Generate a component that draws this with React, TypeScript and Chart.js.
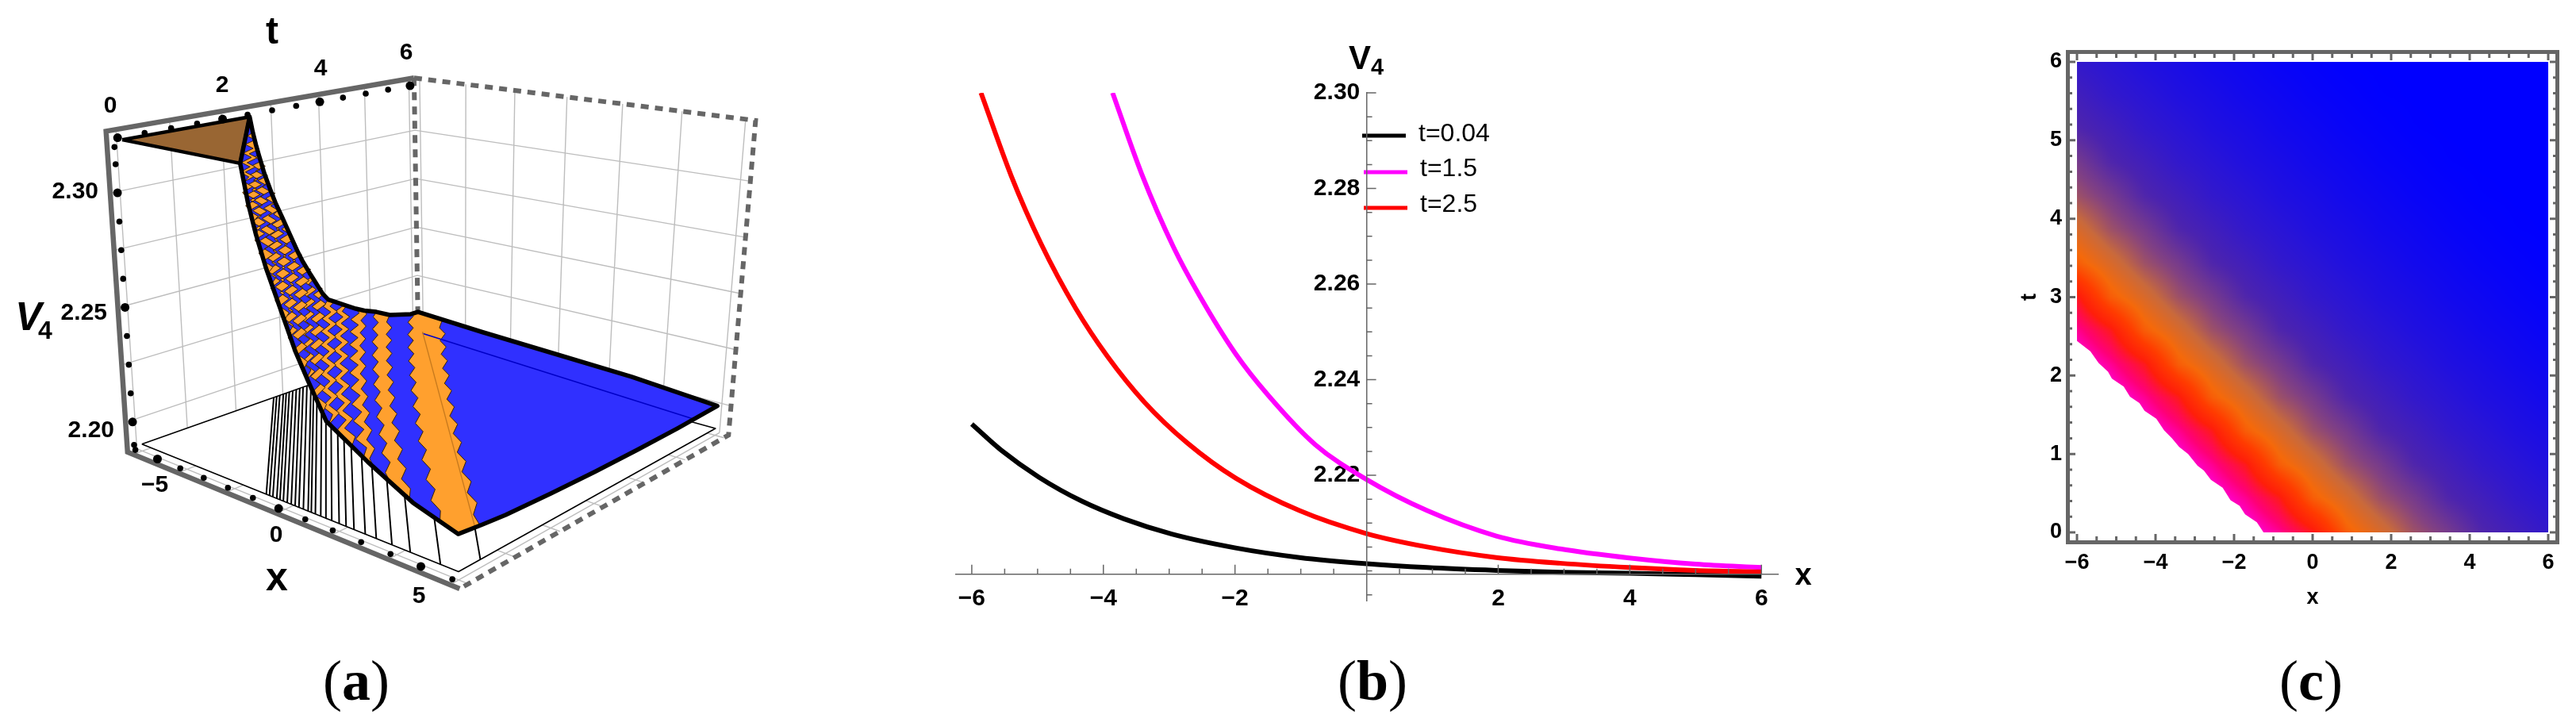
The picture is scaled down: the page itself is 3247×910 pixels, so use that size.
import { useEffect, useRef } from 'react';
import { Chart, registerables } from 'chart.js';

Chart.register(...registerables);
Chart.defaults.font.family = '"Liberation Sans", Arial, sans-serif';
Chart.defaults.color = '#000';

// ---------- panel (a): surface ----------
const WAVE_SPEED = 1.96; // x + c*t is constant along a stripe
const V_FLOOR = 2.19;
const V_CLIP = 2.323;
const BROWN = '#996633';
const BLUE = '#3030ff';
const ORANGE = '#ffa02e';

// stripes: where each one meets t=0, and its height at both ends
const bandXi = [-1.1, -1.0, -0.9, -0.81, -0.724, -0.6, -0.469, -0.317, -0.195, -0.065, 0.084, 0.235, 0.384, 0.528, 0.694, 0.871, 0.989, 1.14, 1.338, 1.524, 1.738, 2.004, 2.252, 2.532, 2.926, 3.306, 3.84, 4.45, 5.43, 6.9];
const bandV = [2.3155, 2.3095, 2.3043, 2.3, 2.2957, 2.2909, 2.2859, 2.2805, 2.2768, 2.2728, 2.2682, 2.2635, 2.2589, 2.2545, 2.25, 2.2458, 2.243, 2.2396, 2.2352, 2.2311, 2.2278, 2.2259, 2.2241, 2.2221, 2.2193, 2.2168, 2.2135, 2.2097, 2.2055, 2.2025];
const bandVFar = [2.3155, 2.3095, 2.3043, 2.3, 2.2957, 2.2909, 2.2859, 2.2805, 2.2768, 2.2728, 2.2682, 2.2635, 2.2589, 2.2545, 2.25, 2.2458, 2.243, 2.2396, 2.2352, 2.2311, 2.2278, 2.2259, 2.2241, 2.2221, 2.2193, 2.217, 2.2145, 2.2108, 2.2077, 2.2062];
const toothT = [0.23, 0.46, 0.69, 0.92, 1.15, 1.38, 1.61, 1.84, 2.07, 2.3, 2.53, 2.76, 2.99, 3.22, 3.45, 3.68, 3.91, 4.14, 4.37, 4.6, 4.83, 5.06, 5.29, 5.52, 5.75];
const toothOffset = [0.13, -0.13, 0.13, -0.13, 0.13, -0.13, 0.13, -0.13, 0.13, -0.13, 0.13, -0.13, 0.13, -0.13, 0.13, -0.13, 0.13, -0.13, 0.13, -0.13, 0.13, -0.13, 0.13, -0.13, 0.13];
const frontEdgeX = [-0.97, -0.72, -0.384, 0.595, 1.04, 1.65, 3.08, 4.57, 6];
const frontEdgeV = [2.3076, 2.2955, 2.2826, 2.2524, 2.2418, 2.2284, 2.2182, 2.209, 2.2037];
const rightEdgeT = [0.5, 1, 2, 3, 4, 5, 6];
const rightEdgeV = [2.2025, 2.2015, 2.2005, 2.1998, 2.1995, 2.1995, 2.2];
const backEdgeX = [3, 0, -3, -6];
const backEdgeV = [2.203, 2.2044, 2.2058, 2.2077];
const wallT = [0, 1, 2, 3, 4, 5, 6];
const wallX = [-6, -4, -2, 0, 2, 4, 6];
const wallV = [2.2, 2.225, 2.25, 2.275, 2.3];
const tTicksA = [0, 0.5, 1, 1.5, 2, 2.5, 3, 3.5, 4, 4.5, 5, 5.5, 6];
const xTicksA = [-6, -5, -4, -3, -2, -1, 0, 1, 2, 3, 4, 5, 6];
const vTicksA = [2.19, 2.2, 2.2125, 2.225, 2.2375, 2.25, 2.2625, 2.275, 2.2875, 2.3, 2.3125, 2.32];

// ---------- panel (b) ----------
const seriesNames = ['t=0.04', 't=1.5', 't=2.5'];
const seriesColors = ['#000000', '#ff00ff', '#ff0000'];
const blackX = [-6, -5.55, -4.98, -4.33, -3.69, -2.96, -1.99, -1.02, 0, 0.92, 1.97, 2.94, 3.99, 5, 6];
const blackV = [2.2307, 2.2252, 2.2196, 2.2146, 2.2109, 2.2077, 2.2048, 2.2028, 2.2015, 2.2007, 2.2001, 2.1997, 2.1995, 2.1992, 2.1989];
const magentaX = [-3.86, -3.42, -2.93, -2.54, -1.99, -1.5, -0.78, 0, 0.92, 1.97, 2.94, 3.99, 5, 6];
const magentaV = [2.3, 2.2831, 2.2676, 2.2576, 2.2454, 2.2368, 2.2264, 2.2191, 2.2126, 2.2073, 2.2046, 2.2027, 2.2014, 2.2007];
const redX = [-5.86, -5.4, -4.95, -4.42, -3.94, -3.37, -2.72, -1.99, -1.02, 0, 0.92, 1.97, 2.94, 3.99, 5, 6];
const redV = [2.3, 2.2826, 2.2685, 2.2549, 2.2449, 2.2352, 2.2267, 2.2194, 2.2126, 2.2078, 2.205, 2.2028, 2.2016, 2.2007, 2.2001, 2.1998];
const xLabelsB = [-6, -4, -2, 2, 4, 6];
const vLabelsB = [2.22, 2.24, 2.26, 2.28, 2.3];
const xMinorB = [-6, -5.5, -5, -4.5, -4, -3.5, -3, -2.5, -2, -1.5, -1, -0.5, 0.5, 1, 1.5, 2, 2.5, 3, 3.5, 4, 4.5, 5, 5.5, 6];
const vMinorB = [2.195, 2.2, 2.205, 2.21, 2.215, 2.22, 2.225, 2.23, 2.235, 2.24, 2.245, 2.25, 2.255, 2.26, 2.265, 2.27, 2.275, 2.28, 2.285, 2.29, 2.295, 2.3];

// ---------- panel (c) ----------
// level along each grid diagonal, 0 = blue ... 9 = magenta
const heatLevels = [9, 9, 9, 9, 9, 9, 9, 9, 9, 9, 9, 9, 8.2, 7.5, 7, 6.2, 5.3, 4.8, 4.2, 3.8, 3.4, 3, 2.7, 2.4, 2.1, 1.85, 1.65, 1.5, 1.3, 1.15, 1, 0.9, 0.8, 0.7, 0.62, 0.54, 0.46, 0.38, 0.32, 0.26, 0.2, 0.15, 0.1, 0.06, 0.03, 0, 0, 0, 0, 0, 0, 0, 0, 0, 0, 0, 0];
const heatStops = [[0, 0, 255], [40, 20, 215], [75, 35, 175], [130, 65, 130], [200, 105, 60], [245, 105, 10], [255, 60, 0], [255, 30, 10], [255, 0, 120], [255, 0, 255]];
const cutX = [-6, -5.66, -5.45, -5.21, -5.11, -4.81, -4.65, -4.41, -4.28, -3.98, -3.78, -3.58, -3.4, -3.17, -2.93, -2.77, -2.59, -2.29, -2.09, -1.86, -1.72, -1.42, -1.25];
const cutT = [2.44, 2.31, 2.16, 2.05, 1.96, 1.86, 1.73, 1.65, 1.55, 1.45, 1.3, 1.2, 1.09, 1, 0.85, 0.79, 0.67, 0.57, 0.41, 0.34, 0.23, 0.13, 0];
const xLabelsC = [-6, -4, -2, 0, 2, 4, 6];
const tLabelsC = [0, 1, 2, 3, 4, 5, 6];
const xMinorC = [-6, -5.5, -5, -4.5, -4, -3.5, -3, -2.5, -2, -1.5, -1, -0.5, 0, 0.5, 1, 1.5, 2, 2.5, 3, 3.5, 4, 4.5, 5, 5.5, 6];
const tMinorC = [0, 0.2, 0.4, 0.6, 0.8, 1, 1.2, 1.4, 1.6, 1.8, 2, 2.2, 2.4, 2.6, 2.8, 3, 3.2, 3.4, 3.6, 3.8, 4, 4.2, 4.4, 4.6, 4.8, 5, 5.2, 5.4, 5.6, 5.8, 6];

// ---------- camera for panel (a): screen position of the plot box corners ----------
const BOX = {
  fl: [[175, 562], [150, 173]],
  fr: [[578, 725], [573, 258]],
  bl: [[527, 437], [522, 106]],
  br: [[905, 542], [936, 160]],
};
const warp = (f: number, a: number) => (a * f) / (1 + (a - 1) * f);
const mix = (a: number, b: number, f: number) => a + (b - a) * f;

function project(x: number, t: number, v: number) {
  const u = warp((x + 6) / 12, 0.825);
  const w = warp(t / 6, 1.12);
  const h = (v - V_FLOOR) / (V_CLIP - V_FLOOR);
  const at = (i: number) => {
    const low = mix(mix(BOX.fl[0][i], BOX.fr[0][i], u), mix(BOX.bl[0][i], BOX.br[0][i], u), w);
    const high = mix(mix(BOX.fl[1][i], BOX.fr[1][i], u), mix(BOX.bl[1][i], BOX.br[1][i], u), w);
    return mix(low, high, h);
  };
  return { x: at(0), y: at(1) };
}

type P3 = [number, number, number];
const GAP = { x: NaN, y: NaN };

function stripeEdge(k: number): P3[] {
  const xi = bandXi[k];
  const tNear = Math.max(0, (xi - 6) / WAVE_SPEED);
  const tFar = Math.min(6, (xi + 6) / WAVE_SPEED);
  // each orange stripe bulges on alternate rows, its neighbour on the others;
  // teeth get shallower on the wide stripes
  const pair = k >> 1;
  const sign = (k % 2 === 0 ? 1 : -1) * (pair % 2 === 0 ? 1 : -1) * (k >= 25 ? 0.7 : 1);
  const vAt = (t: number) => mix(bandV[k], bandVFar[k], (t - tNear) / (tFar - tNear));
  const pts: P3[] = [[xi - WAVE_SPEED * tNear, tNear, bandV[k]]];
  toothT.forEach((t, j) => {
    if (t < tNear + 0.05 || t > tFar - 0.05) return;
    // teeth point sideways on the screen: a bit of x and a bit of t
    const x = xi - WAVE_SPEED * t + sign * toothOffset[j] * 0.6;
    const tt = t + sign * toothOffset[j] * 0.4;
    pts.push([Math.max(-6, Math.min(6, x)), tt, vAt(t)]);
  });
  pts.push([xi - WAVE_SPEED * tFar, tFar, bandVFar[k]]);
  return pts;
}

function line3(points: { x: number; y: number }[], color: string, width: number, extra: object = {}) {
  return { data: points, showLine: true, pointRadius: 0, borderColor: color, borderWidth: width, fill: false, tension: 0, ...extra };
}
function shape3(pts: P3[], color: string, outline = 'transparent', width = 0) {
  return line3(pts.map((p) => project(...p)), outline, width, { fill: 'shape', backgroundColor: color, borderJoinStyle: 'round' });
}
function surfaceOutline(): P3[] {
  const last = bandXi.length - 1;
  const front: P3[] = [[-1.2, 0, V_CLIP], ...frontEdgeX.map((x, i) => [x, 0, frontEdgeV[i]] as P3)];
  const right = rightEdgeT.map((t, i) => [6, t, rightEdgeV[i]] as P3);
  const back = backEdgeX.map((x, i) => [x, 6, backEdgeV[i]] as P3);
  const ridge: P3[] = [];
  for (let k = last - 1; k >= 0; k--) ridge.push([-6, (bandXi[k] + 6) / WAVE_SPEED, bandVFar[k]]);
  ridge.push([-6, 2.45, V_CLIP]);
  return [...front, ...right, ...back, ...ridge];
}

function datasetsA() {
  const sets: any[] = [];
  // walls
  const grid: { x: number; y: number }[] = [];
  const BX = -6.25;
  const BT = 6.12;
  const VB = 2.187;
  const VT = 2.327;
  wallT.forEach((t) => grid.push(project(BX, t, VB), project(BX, t, VT), GAP));
  wallV.forEach((v) => grid.push(project(BX, -0.15, v), project(BX, BT, v), GAP));
  wallX.forEach((x) => grid.push(project(x, BT, VB), project(x, BT, VT), GAP));
  wallV.forEach((v) => grid.push(project(BX, BT, v), project(6.3, BT, v), GAP));
  wallX.forEach((x) => grid.push(project(x, -0.18, VB), project(x, BT, VB), GAP));
  wallT.forEach((t) => grid.push(project(BX, t, VB), project(6.3, t, VB), GAP));
  sets.push(line3(grid, '#bdbdbd', 1.4));
  // dashed far side of the frame
  sets.push(line3([project(BX, BT, VT), project(6.3, BT, VT), project(6.3, BT, VB), project(6.3, -0.18, VB)], '#666666', 6, { borderDash: [10, 8] }));
  sets.push(line3([project(BX, BT, VT), project(BX, BT, VB)], '#666666', 6, { borderDash: [10, 8] }));
  // floor sheet and the stripe lines dropped on it
  sets.push(shape3([[-6, 0, V_FLOOR], [6, 0, V_FLOOR], [6, 6, V_FLOOR], [-6, 6, V_FLOOR], [-6, 0, V_FLOOR]], '#ffffff', '#000000', 1.6));
  const drops: { x: number; y: number }[] = [];
  bandXi.slice(4).forEach((xi) => {
    const tNear = Math.max(0, (xi - 6) / WAVE_SPEED);
    drops.push(project(xi - WAVE_SPEED * tNear, tNear, V_FLOOR), project(-6, (xi + 6) / WAVE_SPEED, V_FLOOR), GAP);
  });
  sets.push(line3(drops, '#000000', 2));
  // surface
  const outline = surfaceOutline();
  sets.push(shape3(outline, BLUE));
  const last = bandXi.length - 1;
  for (let k = last - 1; k >= 0; k -= 2) {
    const a = stripeEdge(k);
    const b = stripeEdge(k + 1).reverse();
    const poly: P3[] = [...a];
    if (k + 1 === last) poly.push([-6, 6, backEdgeV[3]]);
    poly.push(...b);
    if (k + 1 === last) poly.push([6, 0, frontEdgeV[8]]);
    sets.push(shape3(poly, ORANGE, '#3a2200', 1));
  }
  sets.push(line3([project(-4.6, 5.4, 2.205), project(6, 5.4, 2.1997)], '#0000c8', 1.6));
  sets.push(line3([project(6, 0.35, 2.203), project(-4.7, 5.45, 2.2052)], '#c87a1e', 1.4));
  // clipped cap
  sets.push(shape3([[-6, 0, V_CLIP], [-6, 2.45, V_CLIP], [-1.2, 0, V_CLIP], [-6, 0, V_CLIP]], BROWN, '#000000', 4.5));
  sets.push(line3([...outline, outline[0]].map((p) => project(...p)), '#000000', 5.5, { borderJoinStyle: 'round' }));
  // solid frame
  sets.push(line3([project(6.3, -0.18, VB), project(BX, -0.18, VB), project(BX, -0.18, VT), project(BX, BT, VT)], '#666666', 6.5, { borderJoinStyle: 'miter' }));
  // tick dots
  const dots = (pts: { x: number; y: number }[], majors: boolean[]) => ({
    data: pts,
    showLine: false,
    pointRadius: majors.map((m) => (m ? 5.5 : 3.8)),
    pointBackgroundColor: '#000',
    pointBorderWidth: 0,
  });
  sets.push(dots(tTicksA.map((t) => project(-6.2, t, 2.3235)), tTicksA.map((t) => t % 2 === 0)));
  sets.push(dots(xTicksA.map((x) => project(x, -0.13, 2.1885)), xTicksA.map((x) => x % 5 === 0)));
  sets.push(dots(vTicksA.map((v) => project(-6.12, -0.1, v)), vTicksA.map((v) => [2.2, 2.25, 2.3].includes(v))));
  return sets.reverse();
}

type Lab = { text: string; x: number; y: number; font: string; align?: CanvasTextAlign };

function labelPlugin(labels: Lab[]) {
  return {
    id: 'labels',
    afterDraw(chart: Chart) {
      const { ctx } = chart;
      ctx.save();
      ctx.fillStyle = '#000';
      ctx.textBaseline = 'middle';
      labels.forEach((l) => {
        ctx.font = l.font;
        ctx.textAlign = l.align ?? 'center';
        ctx.fillText(l.text, l.x, l.y);
      });
      ctx.restore();
    },
  };
}

const SANS = '"Liberation Sans"';

function configA() {
  return {
    type: 'scatter',
    data: { datasets: datasetsA() },
    options: {
      animation: false,
      responsive: false,
      devicePixelRatio: 1,
      layout: { padding: 0 },
      plugins: { legend: { display: false }, tooltip: { enabled: false } },
      scales: {
        x: { type: 'linear', display: false, min: 0, max: 1150 },
        y: { type: 'linear', display: false, min: 0, max: 800, reverse: true },
      },
    },
    plugins: [
      labelPlugin([
        { text: 't', x: 343, y: 42, font: `bold 48px ${SANS}` },
        { text: '0', x: 139, y: 134, font: `bold 30px ${SANS}` },
        { text: '2', x: 280, y: 108, font: `bold 30px ${SANS}` },
        { text: '4', x: 404, y: 87, font: `bold 30px ${SANS}` },
        { text: '6', x: 512, y: 67, font: `bold 30px ${SANS}` },
        { text: '2.30', x: 124, y: 242, font: `bold 30px ${SANS}`, align: 'right' },
        { text: '2.25', x: 135, y: 395, font: `bold 30px ${SANS}`, align: 'right' },
        { text: '2.20', x: 144, y: 543, font: `bold 30px ${SANS}`, align: 'right' },
        { text: 'V', x: 36, y: 402, font: `italic bold 50px ${SANS}` },
        { text: '4', x: 57, y: 418, font: `bold 32px ${SANS}` },
        { text: '\u22125', x: 195, y: 612, font: `bold 30px ${SANS}` },
        { text: '0', x: 348, y: 675, font: `bold 30px ${SANS}` },
        { text: '5', x: 528, y: 752, font: `bold 30px ${SANS}` },
        { text: 'x', x: 349, y: 730, font: `bold 50px ${SANS}` },
      ]),
    ],
  };
}

function seriesData(xs: number[], vs: number[]) {
  return xs.map((x, i) => ({ x, y: vs[i] }));
}

const ORIGIN_B = 2.1993;

function configB() {
  const make = (i: number, xs: number[], vs: number[]) => ({
    label: seriesNames[i],
    data: seriesData(xs, vs),
    showLine: true,
    pointRadius: 0,
    borderColor: seriesColors[i],
    borderWidth: 6,
    cubicInterpolationMode: 'monotone',
    order: 3 - i,
  });
  return {
    type: 'scatter',
    data: { datasets: [make(0, blackX, blackV), make(1, magentaX, magentaV), make(2, redX, redV)] },
    options: {
      animation: false,
      responsive: false,
      devicePixelRatio: 1,
      layout: { padding: { left: 55, right: 159, top: 117, bottom: 43 } },
      plugins: { legend: { display: false }, tooltip: { enabled: false } },
      scales: {
        x: {
          type: 'linear',
          min: -6.24,
          max: 6.25,
          position: { y: ORIGIN_B },
          grid: { display: false, drawTicks: false },
          border: { color: '#666666', width: 1.5, z: 1 },
          afterBuildTicks: (s: any) => { s.ticks = xLabelsB.map((value) => ({ value })); },
          ticks: { padding: 13, maxRotation: 0, autoSkip: false, font: { size: 30, weight: 'bold' }, callback: (v: number) => String(v).replace('-', '\u2212') },
        },
        y: {
          type: 'linear',
          min: 2.19378,
          max: 2.3,
          position: { x: 0 },
          grid: { display: false, drawTicks: false },
          border: { color: '#666666', width: 1.5, z: 1 },
          afterBuildTicks: (s: any) => { s.ticks = vLabelsB.map((value) => ({ value })); },
          ticks: { autoSkip: false, font: { size: 30, weight: 'bold' }, callback: (v: number) => v.toFixed(2) + '\u00a0' },
        },
      },
    },
    plugins: [
      {
        id: 'minorTicks',
        afterDatasetsDraw(chart: Chart) {
          const { ctx, scales } = chart;
          const x0 = scales.x.getPixelForValue(0);
          const y0 = scales.y.getPixelForValue(ORIGIN_B);
          ctx.save();
          ctx.strokeStyle = '#666666';
          ctx.lineWidth = 1.5;
          ctx.beginPath();
          xMinorB.forEach((x) => {
            const p = scales.x.getPixelForValue(x);
            ctx.moveTo(p, y0);
            ctx.lineTo(p, y0 - (x % 2 === 0 ? 12 : 7));
          });
          vMinorB.forEach((v) => {
            const p = scales.y.getPixelForValue(v);
            ctx.moveTo(x0, p);
            ctx.lineTo(x0 + (vLabelsB.some((m) => Math.abs(m - v) < 1e-6) ? 12 : 7), p);
          });
          ctx.stroke();
          // legend swatches
          const rows = [171, 217, 262];
          const offs = [0, 2, 2];
          ctx.lineWidth = 5;
          rows.forEach((y, i) => {
            ctx.strokeStyle = seriesColors[i];
            ctx.beginPath();
            ctx.moveTo(567 + offs[i], y);
            ctx.lineTo(622 + offs[i], y);
            ctx.stroke();
          });
          ctx.restore();
        },
      },
      labelPlugin([
        { text: seriesNames[0], x: 638, y: 169, font: `32px ${SANS}`, align: 'left' },
        { text: seriesNames[1], x: 640, y: 213, font: `32px ${SANS}`, align: 'left' },
        { text: seriesNames[2], x: 640, y: 258, font: `32px ${SANS}`, align: 'left' },
        { text: 'V', x: 564, y: 75, font: `bold 42px ${SANS}` },
        { text: '4', x: 586, y: 86, font: `bold 29px ${SANS}` },
        { text: 'x', x: 1123, y: 727, font: `bold 38px ${SANS}` },
      ]),
    ],
  };
}

function heatColor(level: number) {
  const lo = Math.min(8, Math.floor(level));
  const f = level - lo;
  return heatStops[lo].map((c, i) => mix(c, heatStops[lo + 1][i], f));
}

// odd diagonals lean on the one before, which gives the stair-shaped ridges
function gridLevel(m: number, n: number) {
  const d = 2 * (m + n);
  if ((m + n) % 2 === 0) return heatLevels[d];
  return mix(heatLevels[d], heatLevels[d - 2], 0.15);
}

function configC() {
  return {
    type: 'scatter',
    data: {
      datasets: [
        {
          // the corner under the cut stays white
          data: [...seriesData(cutX, cutT), { x: -6.1, y: -0.1 }, { x: -6.1, y: 2.44 }],
          showLine: true,
          pointRadius: 0,
          borderWidth: 0,
          borderColor: 'transparent',
          backgroundColor: '#ffffff',
          fill: 'shape',
          clip: false,
        },
      ],
    },
    options: {
      animation: false,
      responsive: false,
      devicePixelRatio: 1,
      layout: { padding: { left: 142, right: 21, top: 63, bottom: 30 } },
      plugins: { legend: { display: false }, tooltip: { enabled: false } },
      scales: {
        x: {
          type: 'linear',
          min: -6.283,
          max: 6.283,
          grid: { display: false, drawTicks: false },
          border: { display: false },
          afterBuildTicks: (s: any) => { s.ticks = xLabelsC.map((value) => ({ value })); },
          afterFit: (s: any) => { s.height = 84; },
          ticks: { padding: 7, maxRotation: 0, autoSkip: false, font: { size: 27, weight: 'bold' }, callback: (v: number) => String(v).replace('-', '\u2212') },
          title: { display: true, text: 'x', font: { size: 27, weight: 'bold' }, padding: 0 },
        },
        y: {
          type: 'linear',
          min: -0.152,
          max: 6.152,
          grid: { display: false, drawTicks: false },
          border: { display: false },
          afterBuildTicks: (s: any) => { s.ticks = tLabelsC.map((value) => ({ value })); },
          afterFit: (s: any) => { s.width = 62; },
          ticks: { padding: 5, autoSkip: false, font: { size: 27, weight: 'bold' }, callback: (v: number) => String(v) },
          title: { display: true, text: 't', font: { size: 27, weight: 'bold' }, padding: 0 },
        },
      },
    },
    plugins: [
      {
        id: 'heatImage',
        beforeDatasetsDraw(chart: Chart) {
          const { ctx, scales } = chart;
          const left = Math.round(scales.x.getPixelForValue(-6));
          const right = Math.round(scales.x.getPixelForValue(6));
          const top = Math.round(scales.y.getPixelForValue(6));
          const bottom = Math.round(scales.y.getPixelForValue(0));
          const w = right - left;
          const h = bottom - top;
          const img = ctx.createImageData(w, h);
          const cells = 14;
          for (let py = 0; py < h; py++) {
            const v = ((h - 1 - py) / (h - 1)) * cells;
            const n = Math.min(cells - 1, Math.floor(v));
            const fv = v - n;
            for (let px = 0; px < w; px++) {
              const u = (px / (w - 1)) * cells;
              const m = Math.min(cells - 1, Math.floor(u));
              const fu = u - m;
              const level = mix(
                mix(gridLevel(m, n), gridLevel(m + 1, n), fu),
                mix(gridLevel(m, n + 1), gridLevel(m + 1, n + 1), fu),
                fv,
              );
              const rgb = heatColor(level);
              const o = (py * w + px) * 4;
              img.data[o] = rgb[0];
              img.data[o + 1] = rgb[1];
              img.data[o + 2] = rgb[2];
              img.data[o + 3] = 255;
            }
          }
          ctx.putImageData(img, left, top);
        },
        afterDatasetsDraw(chart: Chart) {
          const { ctx, scales, chartArea: a } = chart;
          ctx.save();
          ctx.strokeStyle = '#666666';
          ctx.lineWidth = 5;
          ctx.strokeRect(a.left + 2.5, a.top + 2.5, a.right - a.left - 5, a.bottom - a.top - 5);
          ctx.lineWidth = 3;
          ctx.beginPath();
          xMinorC.forEach((x) => {
            const p = scales.x.getPixelForValue(x);
            const len = x % 2 === 0 ? 10 : 7;
            ctx.moveTo(p, a.bottom - 3);
            ctx.lineTo(p, a.bottom - 3 - len);
            ctx.moveTo(p, a.top + 3);
            ctx.lineTo(p, a.top + 3 + len);
          });
          tMinorC.forEach((t) => {
            const p = scales.y.getPixelForValue(t);
            const len = Number.isInteger(t) ? 9 : 5;
            ctx.moveTo(a.left + 3, p);
            ctx.lineTo(a.left + 3 + len, p);
            ctx.moveTo(a.right - 3, p);
            ctx.lineTo(a.right - 3 - len, p);
          });
          ctx.stroke();
          ctx.restore();
        },
      },
    ],
  };
}

function Panel({ left, width, height, build }: { left: number; width: number; height: number; build: () => any }) {
  const ref = useRef<HTMLCanvasElement>(null);
  useEffect(() => {
    if (!ref.current) return;
    const chart = new Chart(ref.current, build());
    return () => chart.destroy();
  }, [build]);
  return <canvas ref={ref} width={width} height={height} style={{ position: 'absolute', left, top: 0, width, height }} />;
}

function Caption({ x, letter }: { x: number; letter: string }) {
  return (
    <div
      style={{
        position: 'absolute',
        left: x,
        top: 858,
        transform: 'translate(-50%, -50%)',
        fontFamily: '"Liberation Serif", serif',
        fontSize: 72,
        lineHeight: 1,
      }}
    >
      (<b>{letter}</b>)
    </div>
  );
}

export default function App() {
  return (
    <div style={{ position: 'absolute', left: 0, top: 0, width: 3247, height: 910, background: '#fff', overflow: 'hidden' }}>
      <Panel left={0} width={1150} height={800} build={configA} />
      <Panel left={1150} width={1250} height={800} build={configB} />
      <Panel left={2400} width={847} height={800} build={configC} />
      <Caption x={449} letter="a" />
      <Caption x={1730} letter="b" />
      <Caption x={2913} letter="c" />
    </div>
  );
}
